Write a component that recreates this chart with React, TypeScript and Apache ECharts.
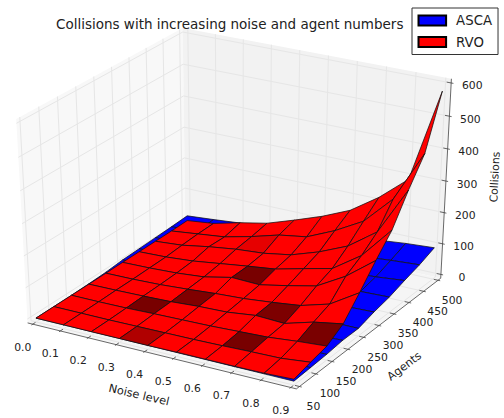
import React, { useEffect, useRef } from "react";
import * as echarts from "echarts";

const noiseLevels = [0, 0.1, 0.2, 0.3, 0.4, 0.5, 0.6, 0.7, 0.8, 0.9];
const agentCounts = [50, 100, 150, 200, 250, 300, 350, 400, 450, 500];
const collisionTicks = [0, 100, 200, 300, 400, 500, 600];

// rows: agents, columns: noise
const ascaCollisions = [
  [0, 0, 0, 0, 0, 0, 0, 0, 0, 0],
  [0, 1, 1, 1, 2, 2, 2, 2, 3, 3],
  [0, 2, 3, 3, 3, 4, 4, 5, 5, 6],
  [1, 5, 5, 6, 6, 7, 7, 8, 9, 12],
  [3, 7, 8, 9, 9, 10, 10, 11, 12, 12],
  [8, 10, 12, 14, 16, 18, 20, 22, 24, 27],
  [10, 13, 17, 20, 23, 26, 29, 32, 35, 38],
  [12, 16, 22, 26, 30, 34, 38, 42, 46, 55],
  [14, 20, 26, 32, 38, 44, 50, 56, 64, 70],
  [17, 24, 32, 40, 48, 58, 66, 75, 84, 90],
];
const rvoCollisions = [
  [0, 0, 0, 0, 0, 1, 1, 1, 2, 6],
  [0, 0, 0, 1, 2, 3, 5, 8, 10, 20],
  [0, 0, 1, 4, 6, 8, 12, 16, 25, 32],
  [0, 1, 3, 6, 12, 15, 26, 22, 48, 64],
  [0, 1, 4, 10, 17, 22, 31, 42, 68, 125],
  [0, 2, 6, 14, 33, 30, 48, 68, 120, 190],
  [0, 3, 10, 22, 34, 45, 67, 88, 150, 250],
  [0, 7, 22, 34, 41, 56, 86, 125, 190, 340],
  [0, 10, 20, 41, 66, 80, 120, 170, 260, 420],
  [1, 11, 33, 51, 81, 113, 152, 213, 289, 578],
];
// [noise index, agents index, brightness] of the cells that are not fully lit
const rvoShadedCells = [
  [3, 0, 0.69], [2, 2, 0.47], [3, 3, 0.5], [6, 1, 0.47], [6, 3, 0.49],
  [8, 2, 0.48], [4, 5, 0.47], [3, 7, 0.9],
];
const axisTitles = ["Noise level", "Agents", "Collisions"];

const FONT = "DejaVu Sans";
const X = [0, 0.9], Y = [50, 500], Z = [0, 600];
const M = 1 / 48;

function projectUnit(a: number, b: number, c: number): [number, number, number] {
  const dx = a - 0.5, dy = b - 0.5, dz = c - 0.5;
  const s3 = Math.sqrt(3);
  const ux = s3 / 2, uy = 0.5;
  const vx = -0.25, vy = s3 / 4, vz = s3 / 2;
  const nx = s3 / 4, ny = -0.75, nz = 0.5;
  const xx = ux * dx + uy * dy;
  const yy = vx * dx + vy * dy + vz * dz;
  const zz = nx * dx + ny * dy + nz * dz;
  const w = 10 - zz;
  return [xx / w, yy / w, zz];
}
const projectData = (x: number, y: number, z: number) =>
  projectUnit((x - X[0]) / (X[1] - X[0]), (y - Y[0]) / (Y[1] - Y[0]), (z - Z[0]) / (Z[1] - Z[0]));

type Cell = { i: number; j: number; depth: number };
function cellsOf(m: number[][]): Cell[] {
  const out: Cell[] = [];
  for (let j = 0; j < agentCounts.length - 1; j++)
    for (let i = 0; i < noiseLevels.length - 1; i++) {
      const ps = [[i, j], [i + 1, j], [i + 1, j + 1], [i, j + 1]].map(([a, b]) =>
        projectData(noiseLevels[a], agentCounts[b], m[b][a]));
      out.push({ i, j, depth: ps.reduce((s, p) => s + p[2], 0) / 4 });
    }
  return out.sort((p, q) => p.depth - q.depth);
}

function surfaceSeries(name: string, m: number[][], rgb: number[], shaded: number[][], z: number) {
  const cells = cellsOf(m);
  const base = `rgb(${rgb.join(",")})`;
  return {
    type: "custom", name, coordinateSystem: "cartesian2d", z, silent: true,
    itemStyle: { color: base, borderColor: "#000", borderWidth: 1 },
    data: cells.map((c) => [c.i, c.j]),
    renderItem: (params: any, api: any) => {
      const c = cells[params.dataIndex];
      const pts = [[c.i, c.j], [c.i + 1, c.j], [c.i + 1, c.j + 1], [c.i, c.j + 1]].map(([a, b]) => {
        const p = projectData(noiseLevels[a], agentCounts[b], m[b][a]);
        return api.coord([p[0], p[1]]);
      });
      const hit = shaded.find((s) => s[0] === c.i && s[1] === c.j);
      const f = hit ? hit[2] : 1;
      const fill = `rgb(${rgb.map((v) => Math.round(v * f)).join(",")})`;
      return { type: "polygon", shape: { points: pts }, style: { fill, stroke: "#111", lineWidth: 0.75 } };
    },
  };
}

function App() {
  const ref = useRef<HTMLDivElement>(null);
  useEffect(() => {
    const chart = echarts.init(ref.current!, undefined, { renderer: "svg" });
    const xTickU = noiseLevels.map((v) => (v - X[0]) / (X[1] - X[0]));
    const yTickU = agentCounts.map((v) => (v - Y[0]) / (Y[1] - Y[0]));
    const zTickU = collisionTicks.map((v) => (v - Z[0]) / (Z[1] - Z[0]));
    const lo = -M, hi = 1 + M;
    const panes = [
      { pts: [[lo, lo, lo], [lo, hi, lo], [lo, hi, hi], [lo, lo, hi]], fill: "#f8f8f8" },
      { pts: [[lo, hi, lo], [hi, hi, lo], [hi, hi, hi], [lo, hi, hi]], fill: "#f2f2f2" },
      { pts: [[lo, lo, lo], [hi, lo, lo], [hi, hi, lo], [lo, hi, lo]], fill: "#f5f5f5" },
    ];
    const grids: number[][][] = [
      ...xTickU.map((t) => [[t, lo, lo], [t, hi, lo], [t, hi, hi]]),
      ...yTickU.map((t) => [[hi, t, lo], [lo, t, lo], [lo, t, hi]]),
      ...zTickU.map((t) => [[lo, lo, t], [lo, hi, t], [hi, hi, t]]),
    ];
    const axes = [
      [[lo, lo, lo], [hi, lo, lo]],
      [[hi, lo, lo], [hi, hi, lo]],
      [[hi, hi, lo], [hi, hi, hi]],
    ];
    const T = 1 / 12;
    const ticks = [
      ...xTickU.map((t) => [[t, lo + 0.2 * T, lo], [t, lo - 0.1 * T, lo]]),
      ...yTickU.map((t) => [[hi - 0.2 * T, t, lo], [hi + 0.1 * T, t, lo]]),
      ...zTickU.map((t) => [[hi - 0.2 * T, hi, t], [hi + 0.1 * T, hi, t]]),
    ];
    const labels: { text: string; p: number[]; dx: number; dy: number; rot?: number; size: number }[] = [
      ...noiseLevels.map((v, k) => ({ text: v.toFixed(1), p: [xTickU[k], lo, lo], dx: -10, dy: 23, size: 10.8 })),
      ...agentCounts.map((v, k) => ({ text: String(v), p: [hi, yTickU[k], lo], dx: 14, dy: 20, size: 10.8 })),
      ...collisionTicks.map((v, k) => ({ text: String(v), p: [hi, hi, zTickU[k]], dx: 21, dy: 3, size: 10.8 })),
      { text: axisTitles[0], p: [0.5, lo, lo], dx: -20, dy: 40, rot: -0.227, size: 11.3 },
      { text: axisTitles[1], p: [hi, 0.5, lo], dx: 33, dy: 35, rot: 0.65, size: 11.3 },
      { text: axisTitles[2], p: [hi, hi, 0.5], dx: 49, dy: -4, rot: 1.52, size: 10.8 },
    ];
    const ln = (api: any, pts: number[][], stroke: string, lineWidth: number) => ({
      type: "polyline",
      shape: { points: pts.map((q) => { const p = projectUnit(q[0], q[1], q[2]); return api.coord([p[0], p[1]]); }) },
      style: { stroke, lineWidth, fill: "none" },
    });
    const frame = {
      type: "custom", coordinateSystem: "cartesian2d", z: 1, silent: true, data: [[0, 0]],
      renderItem: (_: any, api: any) => ({
        type: "group",
        children: [
          ...panes.map((f) => ({
            type: "polygon",
            shape: { points: f.pts.map((q) => { const p = projectUnit(q[0], q[1], q[2]); return api.coord([p[0], p[1]]); }) },
            style: { fill: f.fill },
          })),
          ...grids.map((g) => ln(api, g, "#e6e6e6", 1)),
          ...axes.map((g) => ln(api, g, "#444", 0.8)),
          ...ticks.map((g) => ln(api, g, "#444", 0.8)),
          ...labels.map((l) => {
            const p = projectUnit(l.p[0], l.p[1], l.p[2]);
            const c = api.coord([p[0], p[1]]);
            return {
              type: "text", x: c[0] + l.dx, y: c[1] + l.dy, rotation: l.rot || 0,
              style: { text: l.text, fill: "#222", font: `${l.size}px '${FONT}'`, align: "center", verticalAlign: "middle" },
            };
          }),
        ],
      }),
    };
    chart.setOption({
      animation: false,
      title: { text: "Collisions with increasing noise and agent numbers", left: 56, top: 17, padding: 0, textStyle: { fontFamily: FONT, fontWeight: "normal", fontSize: 13.5, color: "#222" } },
      legend: {
        data: [{ name: "ASCA", icon: "rect" }, { name: "RVO", icon: "rect" }],
        orient: "vertical", left: 412, top: 8, padding: [6, 6, 6, 5.5], itemGap: 8.5, itemWidth: 27.6, itemHeight: 10,
        borderColor: "#333", borderWidth: 1, backgroundColor: "#fff", selectedMode: false, zlevel: 2,
        textStyle: { fontFamily: FONT, fontSize: 13.3, color: "#222", padding: [0, 0, 0, 5] },
      },
      grid: { left: 0, right: 0, top: 0, bottom: 0 },
      xAxis: { type: "value", min: -237.5 / 2978, max: (504 - 237.5) / 2978, show: false },
      yAxis: { type: "value", min: -216 / 2234, max: 202 / 2234, show: false },
      series: [frame, surfaceSeries("ASCA", ascaCollisions, [0, 0, 255], [], 2), surfaceSeries("RVO", rvoCollisions, [255, 0, 0], rvoShadedCells, 3)],
    });
    return () => chart.dispose();
  }, []);
  return <div ref={ref} style={{ position: "absolute", left: 0, top: 0, width: 504, height: 418, background: "#fff" }} />;
}
export default App;
